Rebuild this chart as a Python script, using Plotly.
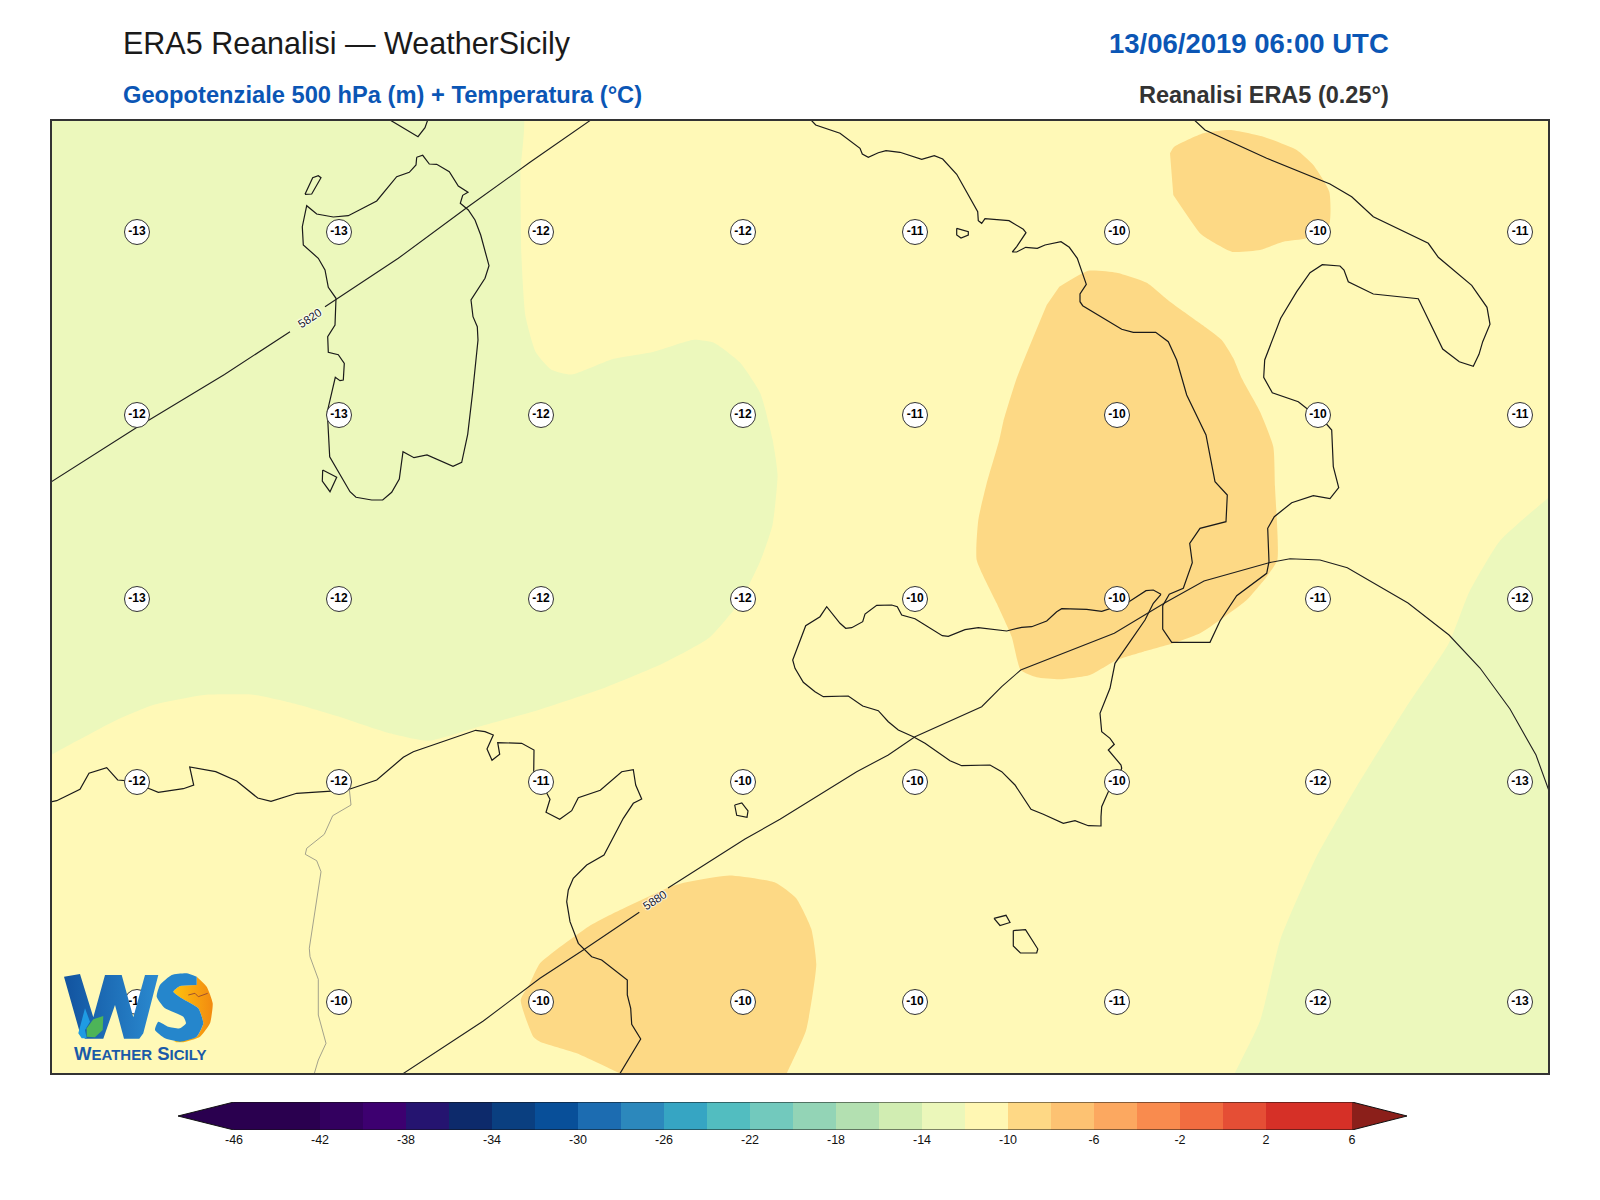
import plotly.graph_objects as go

W, H = 1600, 1200
MAP_X = (52, 1548)
MAP_Y = (121, 1073)
BAR_X = (178, 1407)
BAR_Y = (1102, 1130)

GREEN = "#ECF8BC"
YELLOW = "#FFF9B7"
ORANGE = "#FDD985"

# temperature labels at 500 hPa
grid_x = [137, 339, 541, 743, 915, 1117, 1318, 1520]
grid_y = [232, 415, 599, 782, 1002]
temp_rows = [
    [-13, -13, -12, -12, -11, -10, -10, -11],
    [-12, -13, -12, -12, -11, -10, -10, -11],
    [-13, -12, -12, -12, -10, -10, -11, -12],
    [-12, -12, -11, -10, -10, -10, -12, -13],
    [-10, -10, -10, -10, -10, -11, -12, -13],
]

# colorbar
levels = list(range(-46, 6, 2))
level_colors = [
    "#2A004F", "#2A004F", "#33005F", "#3D0070", "#251470", "#0D2A6B", "#0A3F80",
    "#084F99", "#1C6CB1", "#2C88BC", "#36A5C3", "#52BDC0", "#72C9BD", "#93D4B6",
    "#B3E0B1", "#D1EDB2", "#EBF7BA", "#FFF7B3", "#FED885", "#FDC272", "#FCA860",
    "#F98B4E", "#F16C40", "#E54E35", "#D63027", "#D63027",
]
bar_ticks = list(range(-46, 7, 4))
under_color = "#2A004F"
over_color = "#8B1F1A"

# temperature bands, outer points sit past the frame and get clipped
band_base = [(40, 110), (1560, 110), (1560, 1085), (40, 1085)]
band_green_west = [
    (30, 100), (520.4, 100), (520.4, 173.5), (521.4, 255), (525.5, 316.3), (535.7, 352),
    (551, 369.4), (571.4, 374.5), (612.2, 359.2), (653, 352), (693.9, 339.8), (714.3, 342.9),
    (739.8, 362.2), (760.2, 392.9), (772.4, 438.8), (777.6, 474.5), (772.4, 525.5),
    (760.2, 561.2), (739.8, 602), (709.2, 637.8), (663.3, 663.3), (602, 688.8), (540.8, 709.2),
    (479.6, 726.5), (428.6, 740.8), (387.8, 732.7), (336.7, 716), (295.9, 704), (255.1, 695),
    (204.1, 695), (153.1, 705), (116.7, 720), (51, 755), (30, 768),
]
band_green_east = [
    (1570, 478), (1549, 497), (1500, 540.8), (1469.4, 591.8), (1449, 642.9), (1408.2, 704),
    (1357.1, 785.7), (1316.3, 857.1), (1280.6, 938.8), (1260.2, 1020.4), (1234.7, 1073.5),
    (1225, 1095), (1570, 1095),
]
band_orange_north = [
    (1170, 153.3), (1174, 147), (1203.3, 133.3), (1230, 130), (1263.3, 136.7), (1296.7, 150),
    (1313.3, 165), (1329.3, 191.7), (1329, 225), (1306.7, 238.3), (1283.3, 241.7), (1260, 250),
    (1231.7, 251.7), (1206.7, 238.3), (1200, 233.3), (1173.3, 195),
]
band_orange_calabria = [
    (1059.3, 286.7), (1088.3, 270.7), (1116.7, 272.7), (1146.7, 282.7), (1170, 301.7),
    (1200, 323.3), (1221.7, 340), (1233.3, 358.3), (1241.7, 378.3), (1260, 411.7),
    (1273.3, 446.7), (1275, 486.7), (1277.3, 560), (1266.7, 576.7), (1246.7, 600), (1220, 620),
    (1200, 633.3), (1173.3, 643.3), (1143.3, 651.7), (1116.7, 660), (1090, 675), (1060, 679.3),
    (1036.7, 677.3), (1020.7, 670), (1011.7, 636.7), (996.7, 603.3), (976.7, 560), (978.3, 520),
    (986.7, 483.3), (999.3, 440), (1003.3, 421.7), (1016.7, 378.3), (1046.7, 305),
]
band_orange_tunisia = [
    (670, 886.7), (620, 910), (588.3, 926.7), (540, 963.3), (530, 983.3), (520.7, 1000),
    (533.3, 1036.7), (540, 1041.7), (576.7, 1053.3), (620, 1073.5), (665, 1095), (776, 1095),
    (786.7, 1073.5), (806, 1030.6), (816.3, 964.3), (811.2, 928.6), (796, 898), (775.5, 882.7),
    (729.6, 875.5), (683.7, 882.7),
]

# coastlines
coast_sardinia = [
    (416.7, 157.3), (422.7, 155.3), (429.3, 164), (436.7, 164.3), (449.3, 171.7), (458.3, 186),
    (468, 192.3), (462.7, 195.3), (460.3, 203.3), (468.3, 210), (475, 220), (480.7, 235),
    (489, 265.7), (485, 278.3), (471, 300), (473, 316.7), (477.3, 326.7), (478, 340),
    (472.7, 391.7), (467.7, 434.3), (461.7, 462.3), (453, 466.3), (427, 455), (414, 457.7),
    (403, 451.7), (399.3, 479), (391.7, 492.3), (382.7, 500), (371.7, 500), (356, 497.3),
    (350, 491.7), (329.7, 456.7), (327.3, 411.7), (333.7, 381.7), (335.3, 377.3), (340, 380.7),
    (343.3, 380), (344.3, 363.3), (338.3, 354.7), (328.3, 352.3), (327.7, 336.7), (335, 325),
    (336, 298.3), (328.3, 287.3), (325, 270), (318.3, 258.3), (303.3, 245), (302.3, 226.7),
    (306.7, 205.7), (316.7, 214), (333.3, 217), (348.3, 215.7), (376.7, 201), (396.7, 176.7),
    (409.3, 172.3), (416, 165), (416.7, 157.3),
]
coast_corsica = [(390, 120), (418, 136.7), (425, 127.7), (427.7, 120)]
coast_asinara = [(305, 194.3), (311.7, 194), (321, 177.7), (318.3, 175.7), (312.7, 177.7), (305, 194.3)]
coast_antioco = [(322.7, 470), (336.7, 477.3), (330, 491.7), (322.3, 481), (322.7, 470)]
coast_ustica = [(956.7, 228.3), (968.3, 231.7), (968.3, 235), (961, 238), (956.7, 235), (956.7, 228.3)]
coast_pantelleria = [(734.7, 805), (741.8, 803), (748, 811), (747, 817.3), (736.7, 815.3), (734.7, 805)]
coast_gozo = [(994, 918.4), (1006, 915.3), (1010, 922.5), (1000, 925.5), (994, 918.4)]
coast_malta = [
    (1013.3, 930.6), (1025.5, 929.6), (1037.8, 949), (1036.7, 953), (1020.4, 953), (1013.3, 946),
    (1013.3, 930.6),
]
coast_italy = [
    (811, 120), (815.7, 125), (840, 133.3), (860, 148.3), (862.3, 154), (868.3, 157.3),
    (878.3, 152.7), (886, 150.7), (900, 152.3), (921.7, 159.3), (934.3, 155.7), (942.7, 159),
    (956.7, 174.3), (977.7, 211.7), (978.3, 220.7), (981.7, 223.3), (985, 218.7), (1009, 220.7),
    (1023.3, 229.3), (1026, 232.7), (1016.7, 246.7), (1012.3, 252), (1016.7, 252), (1025.7, 247.3),
    (1037.3, 248.3), (1045, 245), (1061, 241.7), (1069.3, 247.3), (1077.3, 258.3), (1086.3, 284.3),
    (1080, 294), (1080, 301.7), (1082.7, 305.7), (1121.7, 329.3), (1133.3, 332.3), (1155.7, 332.3),
    (1168.3, 341.7), (1176.7, 360), (1186.7, 395), (1198.3, 420), (1206, 435), (1215, 481.7),
    (1227.3, 495), (1226, 521.7), (1200, 528.3), (1189.7, 543.3), (1192.3, 562.7), (1183.3, 588.3),
    (1169.3, 594.3), (1162.7, 605.7), (1162.7, 629), (1171.7, 642.3), (1210, 642.3), (1220, 621),
    (1236.7, 595.7), (1266.7, 573.3), (1269, 561.7), (1267.7, 528.3), (1274.3, 516.7),
    (1291.7, 502.7), (1313.3, 495.7), (1330, 498.7), (1338.7, 487.7), (1333.3, 466.7),
    (1331.7, 430), (1326.7, 424.3), (1306.7, 408.3), (1298.3, 401.7), (1272.3, 392.7),
    (1263.7, 377.3), (1264.7, 360), (1280.7, 318.3), (1296.7, 291.7), (1310, 272.7),
    (1322.3, 264.7), (1340, 266), (1344, 270), (1348.3, 281.7), (1373.3, 294), (1418.3, 298.7),
    (1442.7, 349), (1459.3, 361.7), (1473.3, 366.3), (1479, 354.3), (1482.7, 341.7), (1490, 324.3),
    (1487, 307.3), (1471.7, 285.3), (1438.3, 257.3), (1428.3, 243.3), (1373.3, 216.7),
    (1351.7, 196.7), (1330, 184), (1266.7, 158.3), (1205, 130), (1194.3, 120),
]
coast_sicily = [
    (1161, 594.3), (1153.3, 590), (1146, 590.7), (1126.7, 603.3), (1101.7, 611.3), (1086.7, 609.3),
    (1061.7, 608.7), (1056.7, 611.7), (1046.7, 621), (1031.7, 626.7), (1021.7, 627.3),
    (1006.7, 631), (978.3, 627.7), (965, 629.7), (948.3, 636.3), (942.3, 635.7), (915, 618.7),
    (901.7, 615), (897.3, 606.7), (891.7, 605), (876.7, 605.3), (865, 614), (862.7, 621.7),
    (851.7, 627.7), (845.7, 628.3), (840, 623.3), (826.7, 606.7), (820, 616.7), (805.7, 625.7),
    (792.7, 660), (795, 668.3), (803.3, 682.3), (815, 691.7), (823.3, 696.7), (848.3, 696),
    (862.7, 706), (878.3, 710.7), (888.3, 721.7), (898.3, 730), (913.3, 736.7), (925, 743.3),
    (950, 760.7), (961.7, 765.7), (990, 765), (1001.7, 771.7), (1015, 785), (1031, 809.3),
    (1043.3, 814.3), (1063.3, 823.3), (1075, 820.7), (1088.3, 825.7), (1101, 826), (1101, 816.7),
    (1101.7, 806.7), (1108.3, 791.7), (1116.7, 781.7), (1121.7, 768.3), (1121, 765), (1108.3, 750),
    (1114.3, 744.3), (1110, 738.3), (1101.7, 731.7), (1100, 713.3), (1110, 688.3), (1115, 663.3),
    (1145, 620), (1153.3, 603.3), (1161, 594.3),
]
coast_africa = [
    (51, 801.7), (56.7, 800.7), (80, 789.3), (89, 773.3), (106.7, 767.7), (117.7, 780), (137, 781.7),
    (148.3, 788.3), (158.3, 792.3), (183.3, 788.7), (193.7, 785), (189.7, 767), (215.7, 771.7),
    (236.7, 781), (257.7, 798), (271, 801.3), (296.7, 793.3), (339, 790.7), (350, 789), (370, 782.3),
    (376.7, 780), (403.3, 757.3), (413.3, 751.7), (475.7, 730.3), (485, 731.7), (493.3, 735),
    (487, 749), (492, 760.3), (499.7, 754.3), (497.7, 742.7), (521.7, 743.3), (534, 750),
    (533.7, 773.3), (540.7, 781.7), (550, 799.3), (546, 812.3), (559.7, 819.3), (571.7, 810.7),
    (578.3, 797.7), (600.3, 790.3), (621.7, 771.7), (633.3, 769.7), (635.7, 785), (641.7, 799),
    (633.3, 803.3), (623.3, 818.3), (604, 855), (586.7, 865), (573.3, 878.3), (568.3, 890),
    (566.7, 901.7), (570, 921.7), (578.3, 943.3), (591.7, 956.7), (601.7, 960), (627.3, 980),
    (627.3, 995), (630.7, 1008.3), (631.7, 1024.3), (640.7, 1039), (620, 1073.5),
]
border_tunisia = [
    (349.3, 789), (351, 805), (332.7, 815.7), (324.3, 834.3), (306.7, 848.3), (305.3, 854.3),
    (316.7, 860.7), (321, 871.7), (309.3, 948.3), (310, 956.7), (318.3, 979.3), (318.3, 1015),
    (326, 1043.3), (318.3, 1060), (314.3, 1073.5),
]

# 500 hPa height contours, split where the label sits
z5820_a = [(51, 482), (136.7, 427.5), (224.5, 374.5), (290, 331.7)]
z5820_b = [(325, 306.7), (398.3, 258.3), (466.7, 207.7), (530, 162.3), (590.8, 120)]
z5880_a = [(403.3, 1073.5), (483.3, 1021), (540, 978.3), (583.3, 950), (639.3, 912.3)]
z5880_b = [
    (668, 888), (745, 839), (780, 819.3), (856.7, 771.7), (888.3, 755), (915, 736.7), (981.7, 706.7),
    (1001.7, 686.7), (1020.7, 670), (1114.3, 633.3), (1165, 602.7), (1204, 581), (1269, 562.7),
    (1290, 558.7), (1320, 560), (1347.3, 567.7), (1380, 586.7), (1408, 603), (1449, 635),
    (1480, 668), (1510, 709), (1536, 755), (1549, 791),
]

# logo shapes
logo_w = [
    (64, 976.7), (80, 974), (93.3, 1017.3), (105, 975), (121.7, 975), (133.3, 1017.3), (145, 975),
    (158.3, 975), (143.3, 1033.3), (139.3, 1038.7), (124, 1038.7), (115, 1005), (103.3, 1038.7),
    (85, 1038.7), (80, 1033.3),
]
logo_drop = [(78.3, 1033.3), (85, 1008.3), (90, 1021.7), (85, 1030), (86.7, 1038.3), (81.7, 1038.3)]
logo_leaf = [(86.7, 1036.7), (86.7, 1028.3), (93.3, 1019.3), (103.3, 1016), (102.7, 1030), (95, 1037.3)]
logo_sun = [
    (196.7, 976.7), (206.7, 986.7), (212.7, 1003.3), (210, 1023.3), (200, 1036.7), (183.3, 1042.3),
    (173.3, 1041.7), (196.7, 1036.7), (203.3, 1023.3), (198.3, 1008.3), (181.7, 998.3),
    (173.3, 991.7), (180, 986), (196.7, 985),
]
logo_s = [
    (196.7, 976.7), (186.7, 973.3), (171.7, 975), (160, 985), (156.7, 996.7), (165, 1008.3),
    (183.3, 1016.7), (186, 1023.3), (180, 1028.3), (168.3, 1026.7), (158.3, 1021.7), (155, 1030),
    (165, 1038.3), (180, 1041.7), (196.7, 1036.7), (203.3, 1023.3), (198.3, 1008.3), (181.7, 998.3),
    (173.3, 991.7), (180, 986), (196.7, 985),
]
logo_bird = [(188.3, 995), (195, 993.3), (198.3, 996.7), (207.7, 993.3)]


def xs(points):
    return [p[0] for p in points]


def ys(points):
    return [p[1] for p in points]


def px(x):
    return x / W


def py(y):
    return 1 - y / H


fig = go.Figure()


def add_fill(points, color, shape="linear", **kwargs):
    fig.add_trace(go.Scatter(
        x=xs(points), y=ys(points), mode="lines", fill="toself", fillcolor=color,
        line=dict(width=0, color=color, shape=shape, smoothing=0.5),
        hoverinfo="skip", showlegend=False, **kwargs,
    ))


def add_line(points, color="#1a1a1a", width=1.2):
    fig.add_trace(go.Scatter(
        x=xs(points), y=ys(points), mode="lines", line=dict(color=color, width=width),
        hoverinfo="skip", showlegend=False,
    ))


add_fill(band_base, YELLOW)
for band in [band_green_west, band_green_east]:
    add_fill(band, GREEN, shape="spline")
for band in [band_orange_north, band_orange_calabria, band_orange_tunisia]:
    add_fill(band, ORANGE, shape="spline")

for coast in [coast_sardinia, coast_corsica, coast_asinara, coast_antioco, coast_ustica,
              coast_pantelleria, coast_gozo, coast_malta, coast_italy, coast_sicily, coast_africa]:
    add_line(coast)
add_line(border_tunisia, color="#8c8c80", width=0.8)

for seg in [z5820_a, z5820_b, z5880_a, z5880_b]:
    add_line(seg, color="#1f1f1f", width=1.1)

# temperature markers
marker_x, marker_y, marker_t = [], [], []
for row_y, row in zip(grid_y, temp_rows):
    for col_x, val in zip(grid_x, row):
        marker_x.append(col_x)
        marker_y.append(row_y)
        marker_t.append(str(val))
fig.add_trace(go.Scatter(
    x=marker_x, y=marker_y, text=marker_t, mode="markers+text", textposition="middle center",
    marker=dict(size=25, color="#FFFFFF", line=dict(color="#333333", width=1)),
    textfont=dict(family="Liberation Sans", size=12, color="#000000", weight="bold"),
    hoverinfo="skip", showlegend=False,
))

# logo on top of the markers
blue_grad = dict(type="horizontal", colorscale=[[0, "#12539F"], [1, "#2A8AD0"]])
add_fill(logo_w, "#1B6BB8", fillgradient=blue_grad)
add_fill(logo_drop, "#1F9BE3")
add_fill(logo_leaf, "#4DB458")
add_fill(logo_sun, "#F9A11B", shape="spline",
         fillgradient=dict(type="horizontal", colorscale=[[0, "#FFC20E"], [1, "#F28A10"]]))
add_fill(logo_s, "#2586CC", shape="spline")
add_line(logo_bird, color="#A0522D", width=1)

# colorbar, drawn on its own axes
fig.add_trace(go.Bar(
    x=[v + 1 for v in levels], y=[1] * len(levels), width=2, xaxis="x2", yaxis="y2",
    marker=dict(color=level_colors, line=dict(width=0)), hoverinfo="skip", showlegend=False,
))
tip_lo = levels[0] - 56 / 21.5
tip_hi = levels[-1] + 2 + 55 / 21.5
for tri_x, color in [([levels[0], tip_lo, levels[0]], under_color),
                     ([levels[-1] + 2, tip_hi, levels[-1] + 2], over_color)]:
    fig.add_trace(go.Scatter(
        x=tri_x, y=[0, 0.5, 1], mode="lines", fill="toself", fillcolor=color,
        line=dict(width=0), xaxis="x2", yaxis="y2", hoverinfo="skip", showlegend=False,
    ))
fig.add_trace(go.Scatter(
    x=[levels[0], tip_lo, levels[0], levels[-1] + 2, tip_hi, levels[-1] + 2, levels[0]],
    y=[0, 0.5, 1, 1, 0.5, 0, 0], mode="lines", line=dict(color="#111111", width=1),
    xaxis="x2", yaxis="y2", hoverinfo="skip", showlegend=False, cliponaxis=False,
))

fig.update_layout(
    width=W, height=H, margin=dict(l=0, r=0, t=0, b=0),
    paper_bgcolor="#FFFFFF", plot_bgcolor="#FFFFFF", showlegend=False,
    font=dict(family="Liberation Sans"),
    xaxis=dict(domain=[px(MAP_X[0]), px(MAP_X[1])], range=list(MAP_X), visible=True,
               showgrid=False, zeroline=False, showticklabels=False, ticks="",
               showline=True, mirror=True, linecolor="#333333", linewidth=2),
    yaxis=dict(domain=[py(MAP_Y[1]), py(MAP_Y[0])], range=[MAP_Y[1], MAP_Y[0]],
               showgrid=False, zeroline=False, showticklabels=False, ticks="",
               showline=True, mirror=True, linecolor="#333333", linewidth=2),
    xaxis2=dict(domain=[px(BAR_X[0]), px(BAR_X[1])], range=[tip_lo, tip_hi], anchor="y2",
                tickvals=bar_ticks, ticktext=[str(v) for v in bar_ticks], tickfont=dict(size=12.5, color="#111111"),
                ticks="", showgrid=False, zeroline=False),
    yaxis2=dict(domain=[py(BAR_Y[1]), py(BAR_Y[0])], range=[0, 1], anchor="x2", visible=False),
)

# titles, contour labels and the logo text
texts = [
    ("ERA5 Reanalisi — WeatherSicily", 121, 44, "left", 30.5, "#1a1a1a", False),
    ("13/06/2019 06:00 UTC", 1391, 44, "right", 27.5, "#0B56B5", True),
    ("Geopotenziale 500 hPa (m) + Temperatura (°C)", 121, 95, "left", 23.7, "#0B56B5", True),
    ("Reanalisi ERA5 (0.25°)", 1391, 95, "right", 23.5, "#333333", True),
]
for text, x, y, anchor, size, color, bold in texts:
    fig.add_annotation(
        text=text, x=px(x), y=py(y), xref="paper", yref="paper", xanchor=anchor, yanchor="middle",
        showarrow=False, font=dict(size=size, color=color, weight="bold" if bold else "normal"),
    )

halo = "1px 0 1px #fff, -1px 0 1px #fff, 0 1px 1px #fff, 0 -1px 1px #fff"
for text, x, y in [("5820", 310, 318), ("5880", 655, 900)]:
    fig.add_annotation(
        text=text, x=x, y=y, xref="x", yref="y", showarrow=False, textangle=-33,
        font=dict(size=11.5, color="#1a1a2a", shadow=halo),
    )

fig.add_annotation(
    text="W<span style='font-size:15px'>EATHER</span> S<span style='font-size:15px'>ICILY</span>",
    x=140, y=1053, xref="x", yref="y", showarrow=False,
    font=dict(size=18.5, color="#1A5AA8", weight="bold"),
)

fig.write_html("out.html", config={"displayModeBar": False}, post_script="document.body.style.margin='0';")
